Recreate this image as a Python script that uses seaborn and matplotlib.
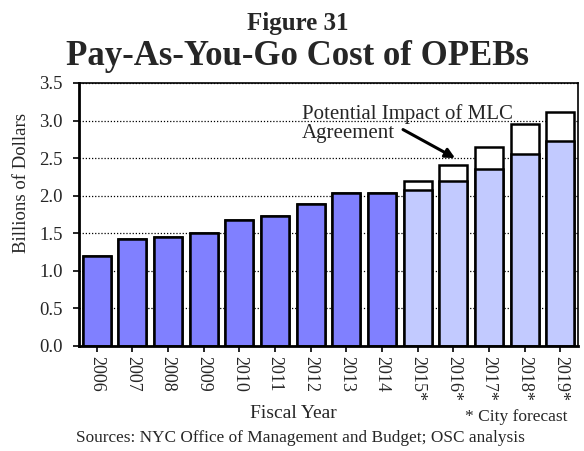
import pandas as pd
import matplotlib.pyplot as plt
import seaborn as sns

years = ['2006', '2007', '2008', '2009', '2010', '2011', '2012', '2013', '2014',
         '2015*', '2016*', '2017*', '2018*', '2019*']
# pay-as-you-go cost, billions of dollars
base = [1.20, 1.42, 1.45, 1.50, 1.68, 1.735, 1.89, 2.03, 2.04,
        2.07, 2.20, 2.35, 2.56, 2.73]
# potential impact of MLC agreement, stacked on the forecast years
impact = [0, 0, 0, 0, 0, 0, 0, 0, 0,
          0.12, 0.21, 0.30, 0.40, 0.39]
kind = ['actual'] * 9 + ['forecast'] * 5

df = pd.DataFrame({'year': years, 'base': base, 'impact': impact, 'kind': kind})
df['total'] = df['base'] + df['impact']

sns.set_style('white')
plt.rcParams['font.family'] = ['Liberation Serif', 'DejaVu Serif']

fig = plt.figure(figsize=(5.84, 4.51), dpi=100)
ax = fig.add_axes([0.135, 0.233, 0.855, 0.583])

# white top segments first, then the base bars over them
sns.barplot(data=df, x='year', y='total', color='white', edgecolor='black',
            linewidth=1.8, width=0.79, saturation=1, ax=ax)
sns.barplot(data=df, x='year', y='base', hue='kind', dodge=False,
            palette={'actual': '#8080FF', 'forecast': '#C2CAFF'}, saturation=1,
            edgecolor='black', linewidth=1.8, width=0.79, legend=False, ax=ax)

ax.set_ylim(0, 3.5)
ax.set_yticks([0, 0.5, 1.0, 1.5, 2.0, 2.5, 3.0, 3.5])
ax.set_yticklabels(['%.1f' % v for v in ax.get_yticks()], fontsize=13.5)
ax.set_xticks(range(len(years)))
ax.set_xticklabels(years, rotation=270, fontsize=13)
ax.yaxis.grid(True, linestyle=(0, (1, 1.5)), color='black', linewidth=0.9)
ax.set_axisbelow(True)
ax.tick_params(axis='both', direction='out', length=4.5, width=1.2, color='black',
               bottom=True, left=True, pad=3)
ax.tick_params(axis='y', pad=7)
for s in ax.spines.values():
    s.set_color('black')
    s.set_linewidth(1.2)
ax.spines['left'].set_linewidth(2)
ax.spines['bottom'].set_linewidth(2)

ax.set_xlabel('Fiscal Year', fontsize=14)
ax.xaxis.set_label_coords(0.43, -0.226)
ax.set_ylabel('Billions of Dollars', fontsize=13.5)
ax.yaxis.set_label_coords(-0.098, 0.62)

ax.text(5.76, 2.96, 'Potential Impact of MLC\nAgreement', fontsize=15,
        ha='left', va='center', linespacing=1.05)
ax.annotate('', xy=(10.05, 2.50), xytext=(8.59, 2.88),
            arrowprops=dict(arrowstyle='-|>', color='black', lw=2.2,
                            shrinkA=0, shrinkB=0, mutation_scale=14))

fig.text(0.51, 0.933, 'Figure 31', ha='center', va='baseline', fontsize=18, fontweight='bold')
fig.text(0.509, 0.856, 'Pay-As-You-Go Cost of OPEBs', ha='center', va='baseline',
         fontsize=25, fontweight='bold')
fig.text(0.971, 0.075, '* City forecast', ha='right', va='center', fontsize=12.5)
fig.text(0.515, 0.028, 'Sources: NYC Office of Management and Budget; OSC analysis',
         ha='center', va='center', fontsize=12.4)

plt.savefig('out.png', dpi=100)
